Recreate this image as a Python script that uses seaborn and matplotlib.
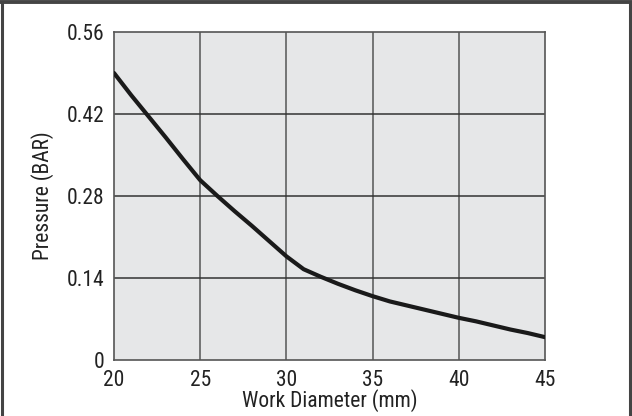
import pandas as pd
import matplotlib.pyplot as plt
import seaborn as sns
from matplotlib.lines import Line2D

# values
diameter = [20, 21, 22, 23, 24, 25, 26, 27, 28, 29, 30, 31, 32, 33, 34, 35,
            36, 37, 38, 39, 40, 41, 42, 43, 44, 45]
pressure = [0.490, 0.452, 0.416, 0.380, 0.343, 0.307, 0.280, 0.254, 0.229, 0.203,
            0.177, 0.155, 0.142, 0.130, 0.119, 0.109, 0.100, 0.093, 0.086, 0.079,
            0.072, 0.066, 0.059, 0.052, 0.046, 0.039]
x_ticks = [20, 25, 30, 35, 40, 45]
y_ticks = [0, 0.14, 0.28, 0.42, 0.56]
y_tick_labels = ["0", "0.14", "0.28", "0.42", "0.56"]

df = pd.DataFrame({"Work Diameter (mm)": diameter, "Pressure (BAR)": pressure})

sns.set_style("white")
plt.rcParams['font.family'] = ['Roboto Condensed', 'DejaVu Sans']

fig = plt.figure(figsize=(6.32, 4.16), dpi=100)
ax = fig.add_axes([114 / 632, 1 - 360 / 416, (545 - 114) / 632, (360 - 32) / 416])
ax.set_facecolor("#e6e7e8")

sns.lineplot(data=df, x="Work Diameter (mm)", y="Pressure (BAR)", ax=ax,
             color="#1a1a1a", linewidth=3, zorder=3)

ax.set_xlim(20, 45)
ax.set_ylim(0, 0.56)
ax.set_xticks(x_ticks)
ax.set_yticks(y_ticks)
ax.set_yticklabels(y_tick_labels)
ax.tick_params(axis="both", length=0, pad=7, labelsize=15.5, colors="#222222")

for v in x_ticks[1:-1]:
    ax.axvline(v, color="#555555", linewidth=1.1, zorder=1)
for v in y_ticks[1:-1]:
    ax.axhline(v, color="#333333", linewidth=1.1, zorder=1)

for s in ax.spines.values():
    s.set_color("#555555")
    s.set_linewidth(1.2)

ax.set_xlabel("Work Diameter (mm)", fontsize=15.5, color="#222222", labelpad=-1)
ax.set_ylabel("Pressure (BAR)", fontsize=15.5, color="#222222", labelpad=9)

# outer frame of the picture (top, left, right)
fig.add_artist(Line2D([0.003, 0.003], [0, 0.996], transform=fig.transFigure,
                      color="#444444", linewidth=2.2))
fig.add_artist(Line2D([0.997, 0.997], [0, 0.996], transform=fig.transFigure,
                      color="#444444", linewidth=2.2))
fig.add_artist(Line2D([0, 1], [0.996, 0.996], transform=fig.transFigure,
                      color="#444444", linewidth=2.8))

plt.savefig("out.png", dpi=100)
